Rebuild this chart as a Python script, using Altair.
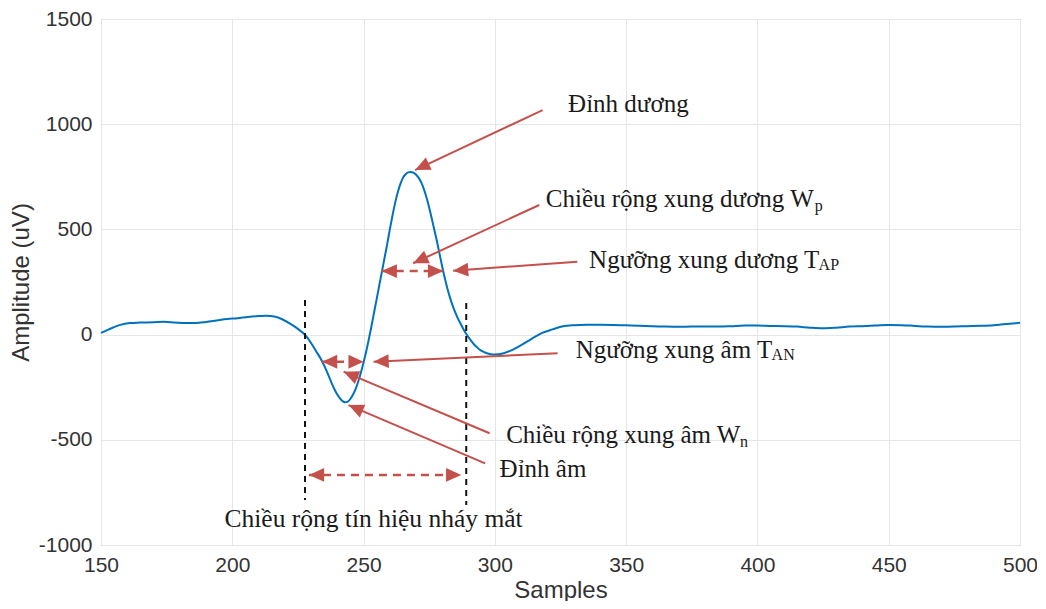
import altair as alt
import pandas as pd
import numpy as np

# ---------------- signal ----------------
sample_x = [150, 153, 157, 161, 165, 170, 174, 178, 182, 186, 190, 194, 198, 202, 206, 210, 213,
            216, 219, 222, 225, 228, 230, 232, 234, 236, 237, 238, 239, 240, 241, 242, 243, 244,
            245, 246, 247, 248, 249, 250, 251, 252, 253, 254, 255, 256, 257, 258, 259, 260, 261,
            262, 263, 264, 265, 266, 267, 268, 269, 270, 271, 272, 273, 274, 275, 276, 277, 278,
            279, 280, 281, 282, 283, 284, 285, 286, 287, 288, 289, 290, 291, 292, 293, 294, 296,
            298, 300, 303, 306, 310, 314, 318, 322, 326, 330, 335, 340, 345, 350, 355, 360, 365,
            370, 375, 380, 385, 390, 395, 400, 405, 410, 415, 420, 425, 430, 435, 440, 445, 450,
            455, 460, 465, 470, 475, 480, 485, 490, 495, 500]
amplitude = [8, 25, 45, 55, 57, 59, 61, 58, 55, 55, 60, 67, 74, 78, 84, 88, 90,
             86, 73, 52, 27, -5, -40, -80, -122, -175, -205, -235, -262, -285, -303, -316, -322, -319,
             -305, -285, -258, -222, -180, -132, -80, -22, 40, 105, 170, 235, 300, 365, 430, 500, 565,
             625, 675, 715, 745, 762, 771, 773, 770, 760, 745, 722, 690, 650, 603, 550, 495, 440,
             380, 320, 265, 215, 172, 135, 103, 75, 50, 27, 5, -13, -30, -46, -58, -70, -84,
             -92, -95, -90, -76, -50, -20, 8, 25, 40, 45, 47, 47, 46, 44, 42, 40, 38,
             37, 38, 38, 38, 40, 43, 43, 41, 40, 38, 33, 30, 33, 38, 40, 43, 46,
             45, 41, 38, 37, 38, 40, 42, 45, 50, 56]

x_ticks = [150, 200, 250, 300, 350, 400, 450, 500]
y_ticks = [-1000, -500, 0, 500, 1000, 1500]

# ---------------- annotations ----------------
label_text = ["Đỉnh dương", "Chiều rộng xung dương W", "Ngưỡng xung dương T",
              "Ngưỡng xung âm T", "Chiều rộng xung âm W", "Đỉnh âm"]
label_x = [327.9, 319.4, 335.9, 330.8, 304.3, 301.8]
label_y = [1058, 608, 315, -113, -517, -675]

sub_text = ["p", "AP", "AN", "n"]
sub_x = [421.8, 423.3, 405.4, 393.4]
sub_y = [588, 305, -123, -535]

bottom_text = ["Chiều rộng tín hiệu nháy mắt"]
bottom_x = [253.8]
bottom_y = [-913]

# pointer lines: start -> tip
ptr_x1 = [318.2, 316.9, 331.4, 323.9, 298.0, 296.3]
ptr_y1 = [1067, 616, 346, -89, -469, -612]
ptr_x2 = [269.6, 268.9, 284.1, 253.8, 242.4, 244.3]
ptr_y2 = [782, 339, 304, -129, -176, -335]

# double-headed dashed arrows
dbl_x1 = [256.9, 234.2, 229.2]
dbl_x2 = [280.3, 250.0, 287.2]
dbl_y = [302, -129, -667]

# black dashed vertical boundaries
vline_x = [227.7, 289.1]
vline_y1 = [164, 150]
vline_y2 = [-786, -810]

W, H = 919, 526
XD, YD = [150, 500], [-1000, 1500]
sx = W / (XD[1] - XD[0])
sy = H / (YD[1] - YD[0])

RED = "#c4504c"
xs = alt.Scale(domain=XD, nice=False, zero=False)
ys = alt.Scale(domain=YD, nice=False, zero=False)

sig = pd.DataFrame({"x": sample_x, "y": amplitude})
line = alt.Chart(sig).mark_line(color="#0072BD", strokeWidth=2, interpolate="monotone").encode(
    x=alt.X("x:Q", scale=xs, axis=alt.Axis(values=x_ticks, title="Samples", titleX=W / 2, titleY=45,
                                           titleBaseline="middle", labelFlush=False, labelOverlap=False,
                                           labelExpr="'' + datum.value")),
    y=alt.Y("y:Q", scale=ys, axis=alt.Axis(values=y_ticks, title="Amplitude (uV)", titleX=-80, titleY=H / 2,
                                           titleBaseline="middle", titleAngle=270, labelOverlap=False,
                                           labelExpr="'' + datum.value")),
)

vl = pd.DataFrame({"x": vline_x, "y1": vline_y1, "y2": vline_y2})
vlines = alt.Chart(vl).mark_rule(color="#111111", strokeWidth=2, strokeDash=[6, 5]).encode(
    x=alt.X("x:Q", scale=xs), y=alt.Y("y1:Q", scale=ys), y2="y2:Q")

ptr = pd.DataFrame({"x1": ptr_x1, "y1": ptr_y1, "x2": ptr_x2, "y2": ptr_y2})
ptr_lines = alt.Chart(ptr).mark_rule(color=RED, strokeWidth=2).encode(
    x=alt.X("x1:Q", scale=xs), y=alt.Y("y1:Q", scale=ys), x2="x2:Q", y2="y2:Q")

dbl = pd.DataFrame({"x1": dbl_x1, "x2": dbl_x2, "y": dbl_y})
dbl_lines = alt.Chart(dbl).mark_rule(color=RED, strokeWidth=2.5, strokeDash=[8, 6]).encode(
    x=alt.X("x1:Q", scale=xs), x2="x2:Q", y=alt.Y("y:Q", scale=ys))

# arrowheads (tip at the symbol origin)
heads = []
for a, b, c, d in zip(ptr_x1, ptr_y1, ptr_x2, ptr_y2):
    ang = np.degrees(np.arctan2(-(d - b) * sy, (c - a) * sx)) % 360
    heads.append((c, d, ang))
for a, b, y in zip(dbl_x1, dbl_x2, dbl_y):
    heads.append((a, y, 180.0))
    heads.append((b, y, 0.0))
hd = pd.DataFrame(heads, columns=["x", "y", "ang"])
arrowheads = alt.Chart(hd).mark_point(
    shape="M0,0L-1.1,-0.5L-1.1,0.5Z", filled=True, opacity=1, color=RED, size=760, strokeWidth=0
).encode(x=alt.X("x:Q", scale=xs), y=alt.Y("y:Q", scale=ys), angle=alt.Angle("ang:Q", scale=None))

SERIF = "Liberation Serif"
lab = pd.DataFrame({"t": label_text, "x": label_x, "y": label_y})
labels = alt.Chart(lab).mark_text(font=SERIF, fontSize=25, align="left", baseline="alphabetic",
                                   color="#1a1a1a").encode(
    x=alt.X("x:Q", scale=xs), y=alt.Y("y:Q", scale=ys), text="t:N")

sub = pd.DataFrame({"t": sub_text, "x": sub_x, "y": sub_y})
subs = alt.Chart(sub).mark_text(font=SERIF, fontSize=16, align="left", baseline="alphabetic",
                                color="#1a1a1a").encode(
    x=alt.X("x:Q", scale=xs), y=alt.Y("y:Q", scale=ys), text="t:N")

bt = pd.DataFrame({"t": bottom_text, "x": bottom_x, "y": bottom_y})
btext = alt.Chart(bt).mark_text(font=SERIF, fontSize=25.5, align="center", baseline="alphabetic",
                                color="#1a1a1a").encode(
    x=alt.X("x:Q", scale=xs), y=alt.Y("y:Q", scale=ys), text="t:N")

chart = alt.layer(line, vlines, dbl_lines, ptr_lines, arrowheads, labels, subs, btext).properties(
    width=W, height=H,
    autosize=alt.AutoSizeParams(type="none"),
    padding={"left": 93, "top": 11, "right": 17, "bottom": 56},
).configure_view(stroke="#a0a0a0", strokeWidth=1).configure_axis(
    grid=True, gridColor="#e6e6e6", domain=False, ticks=False, tickSize=0,
    labelFont="Liberation Sans", labelFontSize=21, labelColor="#333333", labelPadding=9,
    titleFont="Liberation Sans", titleFontSize=24, titleFontWeight="normal", titleColor="#333333",
)

chart.save("out.html", embed_options={"renderer": "svg", "actions": False})
